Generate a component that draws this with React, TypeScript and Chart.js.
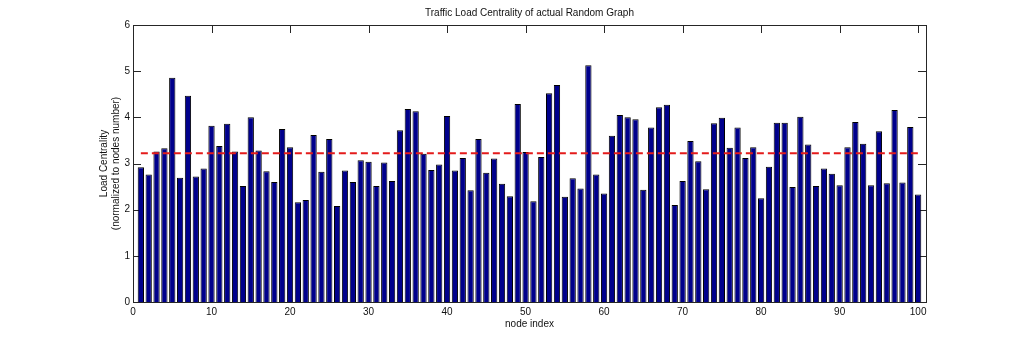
import React, { useEffect, useRef } from "react";
import { Chart, registerables } from "chart.js";

Chart.register(...registerables);

const TITLE = "Traffic Load Centrality of actual Random Graph";
const X_LABEL = "node index";
const Y_LABEL_LINES = ["Load Centrality", "(normalized to nodes number)"];

const NODE_INDEX = Array.from({ length: 100 }, (_, i) => i + 1);

const LOAD_CENTRALITY = [
  2.92, 2.76, 3.26, 3.33, 4.86, 2.69, 4.47, 2.72, 2.89, 3.82,
  3.38, 3.86, 3.26, 2.51, 4.0, 3.28, 2.83, 2.6, 3.75, 3.35,
  2.16, 2.21, 3.62, 2.82, 3.53, 2.08, 2.85, 2.6, 3.07, 3.04,
  2.51, 3.02, 2.62, 3.72, 4.18, 4.13, 3.21, 2.86, 2.98, 4.03,
  2.85, 3.12, 2.42, 3.53, 2.8, 3.11, 2.56, 2.29, 4.29, 3.25,
  2.18, 3.14, 4.52, 4.7, 2.28, 2.68, 2.46, 5.13, 2.76, 2.35,
  3.6, 4.05, 4.0, 3.96, 2.43, 3.78, 4.22, 4.27, 2.1, 2.62,
  3.49, 3.05, 2.44, 3.87, 3.99, 3.34, 3.78, 3.12, 3.35, 2.25,
  2.93, 3.88, 3.88, 2.49, 4.01, 3.41, 2.51, 2.89, 2.78, 2.53,
  3.35, 3.9, 3.43, 2.53, 3.7, 2.57, 4.16, 2.59, 3.79, 2.33,
];

const MEAN_LOAD = 3.22;
const MEAN_RANGE = [1, 100];

const X_TICKS = [0, 10, 20, 30, 40, 50, 60, 70, 80, 90, 100];
const Y_TICKS = [0, 1, 2, 3, 4, 5, 6];
const X_MIN = 0;
const X_MAX = 101;
const Y_MIN = 0;
const Y_MAX = 6;

const FONT = "'Liberation Sans', Arial, sans-serif";

const framePlugin = {
  id: "matlabFrame",
  beforeDatasetsDraw(chart: any) {
    const { ctx, chartArea, scales } = chart;
    const { left, right, top, bottom } = chartArea;
    const tl = 8;
    ctx.save();
    ctx.strokeStyle = "#262626";
    ctx.lineWidth = 1;
    ctx.beginPath();
    X_TICKS.forEach((v) => {
      const x = Math.round(scales.x.getPixelForValue(v)) + 0.5;
      ctx.moveTo(x, bottom);
      ctx.lineTo(x, bottom - tl);
      ctx.moveTo(x, top);
      ctx.lineTo(x, top + tl);
    });
    Y_TICKS.forEach((v) => {
      const y = Math.round(scales.y.getPixelForValue(v)) + 0.5;
      ctx.moveTo(left, y);
      ctx.lineTo(left + tl, y);
      ctx.moveTo(right, y);
      ctx.lineTo(right - tl, y);
    });
    ctx.stroke();
    ctx.strokeRect(Math.round(left) + 0.5, Math.round(top) + 0.5, Math.round(right - left), Math.round(bottom - top));
    ctx.restore();
  },
  afterDraw(chart: any) {
    const { ctx, chartArea } = chart;
    const { left, right, top, bottom } = chartArea;
    const cx = (left + right) / 2;
    const cy = (top + bottom) / 2;
    ctx.save();
    ctx.fillStyle = "#111";
    ctx.textAlign = "center";
    ctx.textBaseline = "middle";
    ctx.font = `10px ${FONT}`;
    ctx.fillText(TITLE, cx, 13);
    ctx.fillText(X_LABEL, cx, 324);
    ctx.translate(0, cy);
    ctx.rotate(-Math.PI / 2);
    ctx.fillText(Y_LABEL_LINES[0], 0, 104);
    ctx.fillText(Y_LABEL_LINES[1], 0, 116);
    ctx.restore();
  },
};

export default function App() {
  const canvasRef = useRef<HTMLCanvasElement | null>(null);

  useEffect(() => {
    if (!canvasRef.current) return;
    const barData = NODE_INDEX.map((n, i) => ({ x: n, y: LOAD_CENTRALITY[i] }));
    const meanData = MEAN_RANGE.map((n) => ({ x: n, y: MEAN_LOAD }));
    const chart = new Chart(canvasRef.current, {
      type: "bar",
      data: {
        datasets: [
          {
            type: "line",
            data: meanData,
            borderColor: "#e41b1b",
            borderWidth: 2,
            borderDash: [7, 4],
            pointRadius: 0,
            fill: false,
            order: 0,
          } as any,
          {
            type: "bar",
            data: barData,
            backgroundColor: "#00008c",
            borderColor: "#000000",
            borderWidth: 1,
            barPercentage: 0.8,
            categoryPercentage: 1.0,
            order: 1,
          } as any,
        ],
      },
      options: {
        responsive: false,
        animation: false,
        layout: { padding: { top: 25, right: 98, bottom: 0, left: 0 } },
        plugins: {
          legend: { display: false },
          tooltip: { enabled: false },
          title: { display: false },
        },
        scales: {
          x: {
            type: "linear",
            offset: false,
            min: X_MIN,
            max: X_MAX,
            grid: { display: false, drawTicks: false },
            border: { display: false },
            ticks: {
              color: "#111",
              font: { family: FONT, size: 10 },
              padding: 4,
              maxRotation: 0,
              autoSkip: false,
            },
            afterBuildTicks: (scale: any) => {
              scale.ticks = X_TICKS.map((v) => ({ value: v }));
            },
            afterFit: (scale: any) => {
              scale.height = 38;
            },
          },
          y: {
            type: "linear",
            min: Y_MIN,
            max: Y_MAX,
            grid: { display: false, drawTicks: false },
            border: { display: false },
            ticks: {
              color: "#111",
              font: { family: FONT, size: 10 },
              padding: 3,
            },
            afterBuildTicks: (scale: any) => {
              scale.ticks = Y_TICKS.map((v) => ({ value: v }));
            },
            afterFit: (scale: any) => {
              scale.width = 133;
            },
          },
        },
      } as any,
      plugins: [framePlugin],
    });
    return () => chart.destroy();
  }, []);

  return (
    <div style={{ position: "absolute", left: 0, top: 0, width: 1024, height: 340, background: "#fff" }}>
      <canvas ref={canvasRef} width={1024} height={340} />
    </div>
  );
}
